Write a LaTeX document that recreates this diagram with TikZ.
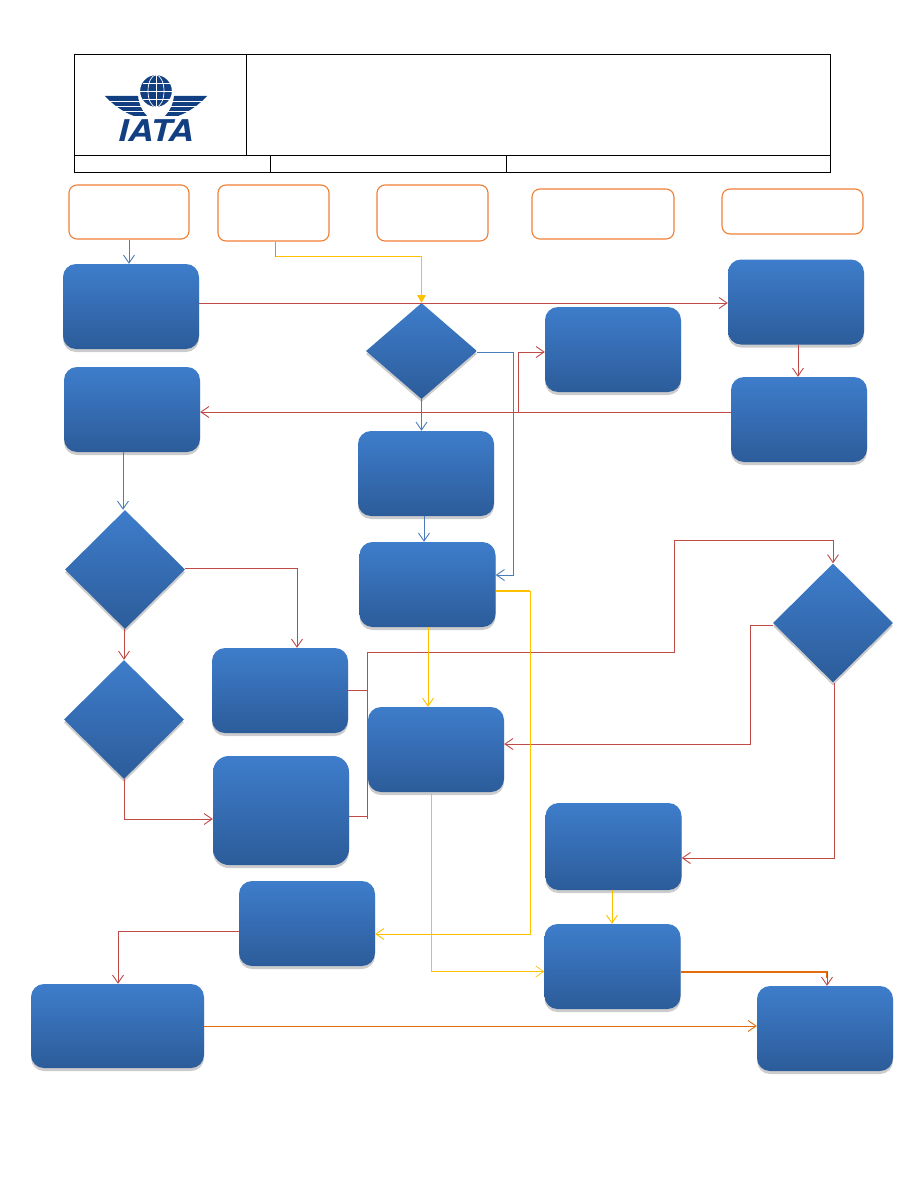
\documentclass[tikz,border=0pt]{standalone}
\usepackage{fontspec}
\setsansfont{TeX Gyre Heros}
\usetikzlibrary{shapes.geometric,shadows,arrows.meta}
\definecolor{logoblue}{HTML}{123F82}
\definecolor{hdrorange}{HTML}{F07F36}
\definecolor{flowred}{HTML}{BE4B48}
\definecolor{flowblue}{HTML}{4A7EBB}
\definecolor{flowyellow}{HTML}{FFC000}
\definecolor{floworange}{HTML}{E46C0A}
\definecolor{boxtop}{HTML}{3E7DCB}
\definecolor{boxmid}{HTML}{3A74BC}
\definecolor{boxbot}{HTML}{2C5C9A}
\tikzset{
  >={Straight Barb[length=8pt,width=11pt]},
  hdrbox/.style={rectangle,rounded corners=8pt,draw=hdrorange,line width=1.1pt,fill=white,inner sep=0pt},
  flowfill/.style={top color=boxtop,middle color=boxmid,bottom color=boxbot,draw=none,inner sep=0pt,
    drop shadow={opacity=.4,shadow xshift=0pt,shadow yshift=-3pt}},
  flowbox/.style={flowfill,rectangle,rounded corners=13pt,minimum width=136pt,minimum height=85pt},
  flowdia/.style={flowfill,diamond,minimum width=120pt,minimum height=119pt},
  redflow/.style={draw=flowred,line width=.9pt},
  blueflow/.style={draw=flowblue,line width=.9pt},
  yellowflow/.style={draw=flowyellow,line width=.9pt},
  orangeflow/.style={draw=floworange,line width=.9pt}
}
\begin{document}
\begin{tikzpicture}[x=1pt,y=-1pt]
  \useasboundingbox (0,0) rectangle (918,1188);

  % page header table
  \draw[line width=.9pt] (74.6,54.6) rectangle (830.6,172.2);
  \draw[line width=.9pt] (74.6,155.2) -- (830.6,155.2);
  \draw[line width=.9pt] (246.4,54.6) -- (246.4,155.2);
  \draw[line width=.9pt] (270.4,155.2) -- (270.4,172.2);
  \draw[line width=.9pt] (506.4,155.2) -- (506.4,172.2);

  % logo
  \foreach \s in {1,-1} {
    \begin{scope}[shift={(156,0)},xscale=\s]
      \fill[logoblue] (-51,96) -- (-18,96) .. controls (-17,105) and (-13,112) .. (-9,116)
        -- (-22,116) .. controls (-33,112) and (-44,104) .. (-51,96) -- cycle;
      \draw[white,line width=.9pt] (-46,101) -- (-14,101);
      \draw[white,line width=.9pt] (-40,106) -- (-12,106);
      \draw[white,line width=.9pt] (-33,111) -- (-9,111);
    \end{scope}
  }
  \fill[logoblue,draw=white,line width=1.2pt] (156,91) circle (16.5);
  \begin{scope}[white,line width=.7pt]
    \draw (156,75) -- (156,107);
    \draw (156,91) ellipse (8 and 16);
    \draw (140,91) -- (172,91);
    \draw (142.5,83) -- (169.5,83);
    \draw (142.5,99) -- (169.5,99);
  \end{scope}
  \node[inner sep=0pt,xscale=1.17,text=logoblue,font=\sffamily\bfseries\itshape\fontsize{30}{30}\selectfont] (logo) at (156,131) {IATA};

  % headers
  \begin{scope}[every node/.style=hdrbox]
    \node[minimum width=120pt,minimum height=54pt] (h1) at (129,212) {};
    \node[minimum width=111pt,minimum height=56pt] (h2) at (273.5,213) {};
    \node[minimum width=111pt,minimum height=56pt] (h3) at (432.5,213) {};
    \node[minimum width=142pt,minimum height=50pt] (h4) at (603,214) {};
    \node[minimum width=141pt,minimum height=45pt] (h5) at (792.5,211.5) {};
  \end{scope}

  % boxes
  \begin{scope}[every node/.style=flowbox]
    \node (b1)  at (131,306.5) {};
    \node (b2)  at (132,409.5) {};
    \node (b3)  at (796,302) {};
    \node (b4)  at (799,419.5) {};
    \node (b5)  at (613,349.5) {};
    \node (b6)  at (426,473.5) {};
    \node (b7)  at (427.5,584.5) {};
    \node (b8)  at (280,690.5) {};
    \node[minimum height=109pt,rounded corners=16pt] (b9) at (281,810.5) {};
    \node (b10) at (436,749.5) {};
    \node[minimum height=87pt] (b11) at (613.5,846.5) {};
    \node (b12) at (612.5,966.5) {};
    \node (b13) at (307,923.5) {};
    \node[minimum width=173pt,minimum height=84pt] (b14) at (117.5,1026) {};
    \node (b15) at (825,1028.5) {};
  \end{scope}

  % decisions
  \begin{scope}[every node/.style=flowdia]
    \node[minimum width=111pt,minimum height=96pt] (d1) at (421.5,351) {};
    \node (d2) at (125,569.5) {};
    \node (d3) at (124,719.5) {};
    \node (d4) at (833,623) {};
  \end{scope}

  % bends
  \coordinate (c1) at (275.5,256.5);
  \coordinate (c2) at (518,412);
  \coordinate (c3) at (513,352);
  \coordinate (c4) at (297,568);
  \coordinate (c5) at (124,819);
  \coordinate (c6) at (367,652);
  \coordinate (c7) at (674,540);
  \coordinate (c8) at (750,625);
  \coordinate (c9) at (834.5,858);
  \coordinate (c10) at (530,591);
  \coordinate (c11) at (431.5,971.5);
  \coordinate (c12) at (827,972);
  \coordinate (c13) at (118,931);
  \coordinate (c14) at (367,819);
  \coordinate (c15) at (530,934);

  % blue
  \draw[blueflow,->] (h1.south) -- (h1.south |- b1.north);
  \draw[blueflow,->] (d1.south) -- (d1.south |- b6.north);
  \draw[blueflow,->] (b6.south -| 424,0) -- (b7.north -| 424,0);
  \draw[blueflow,->] (d1.east |- c3) -- (c3) -- (c3 |- 0,575) -- (b7.east |- 0,575);
  \draw[blueflow,->] (b2.south -| 123,0) -- (d2.north -| 123,0);

  % red
  \draw[redflow,->] (b1.east |- 0,303) -- (b3.west |- 0,303);
  \draw[redflow,->] (b3.south -| 798,0) -- (b4.north -| 798,0);
  \draw[redflow,->] (b4.west |- c2) -- (b2.east |- c2);
  \draw[redflow,->] (c2) -- (c2 |- 0,352) -- (b5.west |- 0,352);
  \draw[redflow,->] (d2.east |- c4) -- (c4) -- (c4 |- b8.north);
  \draw[redflow,->] (d2.south -| 124,0) -- (d3.north -| 124,0);
  \draw[redflow,->] (d3.south) -- (c5) -- (b9.west |- c5);
  \draw[redflow] (b8.east) -- (b8.east -| c6);
  \draw[redflow] (b9.east |- 0,816) -- (c14 |- 0,816);
  \draw[redflow,->] (c14) -- (c6) -- (c7 |- c6) -- (c7) -- (c7 -| d4) -- (d4.north);
  \draw[redflow,->] (d4.west |- c8) -- (c8) -- (c8 |- 0,744) -- (b10.east |- 0,744);
  \draw[redflow,->] (d4.south -| c9) -- (c9) -- (b11.east |- c9);
  \draw[redflow,->] (b13.west |- c13) -- (c13) -- (c13 |- b14.north);

  % yellow
  \draw[hdrorange,line width=.8pt] (h2.south -| c1) -- (c1);
  \draw[yellowflow] (c1) -- (c1 -| d1.north) -- (d1.north |- 0,295);
  \fill[flowyellow] (d1.north) -- (417,295) -- (426,295) -- cycle;
  \draw[yellowflow,->] (b7.south -| 428,0) -- (b10.north -| 428,0);
  \draw[flowyellow,line width=1.6pt] (b7.east |- c10) -- (c10);
  \draw[yellowflow,->] (c10) -- (c15) -- (b13.east |- c15);
  \draw[flowyellow,line width=.7pt,->] (b10.south -| c11) -- (c11) -- (b12.west |- c11);
  \draw[yellowflow,->] (b11.south -| 612,0) -- (b12.north -| 612,0);

  % orange
  \draw[floworange,line width=1.3pt] (b12.east |- c12) -- (c12) -- (c12 |- 0,978);
  \draw[redflow,->] (c12) -- (c12 |- b15.north);
  \draw[orangeflow,->] (b14.east) -- (b15.west |- b14.east);
\end{tikzpicture}
\end{document}
